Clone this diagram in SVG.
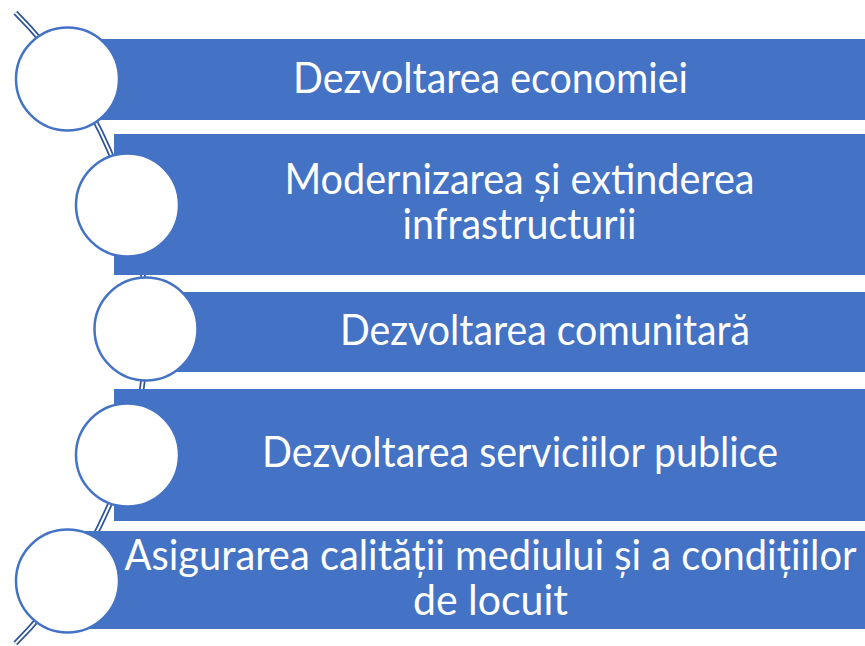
<svg xmlns="http://www.w3.org/2000/svg" width="865" height="646" viewBox="0 0 865 646">
  <style>
    .bar { fill: #4472C4; }
    .dot { fill: #FFFFFF; stroke: #4472C4; stroke-width: 2.5; }
    .lbl { fill: #FFFFFF; font-family: "Lato", "Open Sans", "Liberation Sans", sans-serif; font-size: 42px; text-anchor: middle; }
    .arcOuter { fill: none; stroke: #2F5597; stroke-width: 5.5; }
    .arcInner { fill: none; stroke: #FFFFFF; stroke-width: 2; }
  </style>
  <rect width="865" height="646" fill="#FFFFFF"/>
  <g id="connectors">
    <path class="arcOuter" d="M 15.4 12.6 A 446 446 0 0 1 15.4 643.4"/>
    <path class="arcInner" d="M 15.4 12.6 A 446 446 0 0 1 15.4 643.4"/>
  </g>
  <g id="node1">
    <rect class="bar" x="54" y="39" width="811" height="81"/>
    <circle class="dot" cx="67.5" cy="79" r="51.5"/>
    <text class="lbl" x="490.5" y="92.5" textLength="395" lengthAdjust="spacingAndGlyphs">Dezvoltarea economiei</text>
  </g>
  <g id="node2">
    <rect class="bar" x="114" y="134" width="751" height="141"/>
    <circle class="dot" cx="127.5" cy="205" r="51.5"/>
    <text class="lbl" x="519.5" y="193.5" textLength="470" lengthAdjust="spacingAndGlyphs">Modernizarea și extinderea</text>
    <text class="lbl" x="519.5" y="239" textLength="234" lengthAdjust="spacingAndGlyphs">infrastructurii</text>
  </g>
  <g id="node3">
    <rect class="bar" x="132" y="292" width="733" height="80"/>
    <circle class="dot" cx="146" cy="329" r="51.5"/>
    <text class="lbl" x="545" y="345" textLength="410" lengthAdjust="spacingAndGlyphs">Dezvoltarea comunitară</text>
  </g>
  <g id="node4">
    <rect class="bar" x="114" y="389" width="751" height="132"/>
    <circle class="dot" cx="127.5" cy="455" r="51.5"/>
    <text class="lbl" x="520" y="467" textLength="516" lengthAdjust="spacingAndGlyphs">Dezvoltarea serviciilor publice</text>
  </g>
  <g id="node5">
    <rect class="bar" x="54" y="531" width="811" height="98"/>
    <circle class="dot" cx="67.5" cy="581" r="51.5"/>
    <text class="lbl" x="490.5" y="570" textLength="732" lengthAdjust="spacingAndGlyphs">Asigurarea calității mediului și a condițiilor</text>
    <text class="lbl" x="490.5" y="615" textLength="155" lengthAdjust="spacingAndGlyphs">de locuit</text>
  </g>
</svg>
